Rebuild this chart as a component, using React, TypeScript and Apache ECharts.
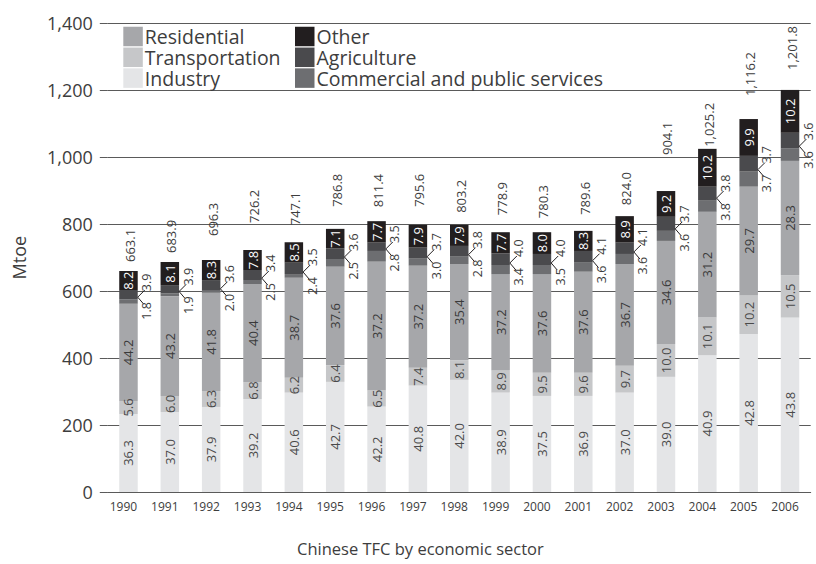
import React, { useEffect, useRef } from "react";
import * as echarts from "echarts";

// ---- data ----
const years = ["1990", "1991", "1992", "1993", "1994", "1995", "1996", "1997", "1998", "1999", "2000", "2001", "2002", "2003", "2004", "2005", "2006"];

// segment heights in Mtoe, as drawn
const industry = [233, 239, 254, 278, 297, 329, 255, 318, 335, 297, 287, 287, 297, 344, 409, 472, 521];
const transportation = [39, 48, 48, 50, 44, 50, 48, 53, 59, 67, 69, 69, 80, 98, 112, 116, 127];
const residential = [290, 298, 293, 293, 299, 294, 385, 305, 287, 287, 295, 302, 304, 308, 316, 324, 341];
const commercial = [14, 8, 6, 12, 11, 23, 32, 21, 22, 27, 27, 27, 30, 30, 35, 45, 38];
const agriculture = [27, 25, 32, 30, 34, 32, 25, 33, 32, 35, 33, 35, 34, 42, 40, 47, 46];
const other = [57, 69, 60, 60, 61, 58, 64, 68, 63, 63, 65, 60, 79, 77, 113, 110, 128];

// share labels (%)
const industryPct = [36.3, 37.0, 37.9, 39.2, 40.6, 42.7, 42.2, 40.8, 42.0, 38.9, 37.5, 36.9, 37.0, 39.0, 40.9, 42.8, 43.8];
const transportationPct = [5.6, 6.0, 6.3, 6.8, 6.2, 6.4, 6.5, 7.4, 8.1, 8.9, 9.5, 9.6, 9.7, 10.0, 10.1, 10.2, 10.5];
const residentialPct = [44.2, 43.2, 41.8, 40.4, 38.7, 37.6, 37.2, 37.2, 35.4, 37.2, 37.6, 37.6, 36.7, 34.6, 31.2, 29.7, 28.3];
const commercialPct = [1.8, 1.9, 2.0, 2.5, 2.4, 2.5, 2.8, 3.0, 2.8, 3.4, 3.5, 3.6, 3.6, 3.6, 3.8, 3.7, 3.6];
const agriculturePct = [3.9, 3.9, 3.6, 3.4, 3.5, 3.6, 3.5, 3.7, 3.8, 4.0, 4.0, 4.1, 4.1, 3.7, 3.8, 3.7, 3.6];
const otherPct = [8.2, 8.1, 8.3, 7.8, 8.5, 7.1, 7.7, 7.9, 7.9, 7.7, 8.0, 8.3, 8.9, 9.2, 10.2, 9.9, 10.2];

// totals (Mtoe)
const totals = [663.1, 683.9, 696.3, 726.2, 747.1, 786.8, 811.4, 795.6, 803.2, 778.9, 780.3, 789.6, 824.0, 904.1, 1025.2, 1116.2, 1201.8];

const yTicks = [0, 200, 400, 600, 800, 1000, 1200, 1400];

// ---- styling (not data) ----
const totalLabelGap = [9, 9, 24, 27, 17, 22, 14, 18, 12, 17, 14, 16, 11, 36, 2, 23, 20];
const FONT = "'Open Sans', 'Noto Sans', 'DejaVu Sans', sans-serif";
const TEXT = "#3d3d3d";
const GRID = "#5a5a5a";
const C_IND = "#e4e5e7";
const C_TRA = "#c6c7c9";
const C_RES = "#a6a7aa";
const C_COM = "#6d6e71";
const C_AGR = "#4a4a4d";
const C_OTH = "#221e1f";
const BAR_W = 18.5;

export default function App() {
  const ref = useRef<HTMLDivElement>(null);

  useEffect(() => {
    if (!ref.current) return;
    const chart = echarts.init(ref.current, null, { renderer: "svg" });

    const comTop = years.map((_, i) => industry[i] + transportation[i] + residential[i] + commercial[i]);
    const barTop = years.map((_, i) => comTop[i] + agriculture[i] + other[i]);

    const insideLabel = (pcts: number[], color: string) => ({
      show: true,
      position: "inside",
      rotate: 90,
      fontSize: 13,
      color,
      fontFamily: FONT,
      formatter: (p: any) => pcts[p.dataIndex].toFixed(1),
    });

    const bar = (name: string, data: number[], color: string, label: any) => ({
      name,
      type: "bar",
      stack: "tfc",
      data,
      barWidth: BAR_W,
      itemStyle: { color },
      label,
      emphasis: { disabled: true },
    });

    const fmtTotal = (v: number) =>
      v.toLocaleString("en-US", { minimumFractionDigits: 1, maximumFractionDigits: 1 });

    const legendBase = {
      orient: "vertical",
      top: 26.5,
      itemWidth: 19.5,
      itemHeight: 19.5,
      itemGap: 0.8,
      icon: "rect",
      selectedMode: false,
      padding: 0,
      textStyle: {
        fontSize: 19.5,
        color: TEXT,
        fontFamily: FONT,
        lineHeight: 19.5,
        padding: [0, 0, 0, -3],
      },
    };

    const option: any = {
      animation: false,
      grid: { left: 107.8, right: 5.3, top: 23.3, bottom: 72, containLabel: false },
      legend: [
        { ...legendBase, left: 123.3, data: ["Residential", "Transportation", "Industry"] },
        { ...legendBase, left: 295, data: ["Other", "Agriculture", "Commercial and public services"] },
      ],
      graphic: [
        {
          type: "text",
          left: 297,
          top: 540,
          style: { text: "Chinese TFC by economic sector", fontSize: 16.5, fill: TEXT, fontFamily: FONT },
        },
      ],
      xAxis: {
        type: "category",
        data: years,
        axisLine: { show: true, lineStyle: { color: GRID, width: 1 } },
        axisTick: { show: false },
        axisLabel: { fontSize: 12, color: TEXT, margin: 8, fontFamily: FONT, padding: [0, 10, 0, 0] },
      },
      yAxis: {
        type: "value",
        min: yTicks[0],
        max: yTicks[yTicks.length - 1],
        interval: yTicks[1] - yTicks[0],
        name: "Mtoe",
        nameLocation: "middle",
        nameGap: 80,
        nameRotate: 90,
        nameTextStyle: { fontSize: 18, color: TEXT, fontFamily: FONT },
        axisLine: { show: false },
        axisTick: { show: true, length: 8, lineStyle: { color: GRID, width: 1 } },
        axisLabel: {
          fontSize: 18,
          color: TEXT,
          margin: 15,
          fontFamily: FONT,
          formatter: (v: number) => v.toLocaleString("en-US"),
        },
        splitLine: { show: true, lineStyle: { color: GRID, width: 1 } },
      },
      series: [
        bar("Industry", industry, C_IND, insideLabel(industryPct, "#4a4a4a")),
        bar("Transportation", transportation, C_TRA, insideLabel(transportationPct, "#4a4a4a")),
        bar("Residential", residential, C_RES, insideLabel(residentialPct, "#3a3a3a")),
        bar("Commercial and public services", commercial, C_COM, { show: false }),
        bar("Agriculture", agriculture, C_AGR, { show: false }),
        bar("Other", other, C_OTH, insideLabel(otherPct, "#ffffff")),
        {
          type: "custom",
          name: "annotations",
          coordinateSystem: "cartesian2d",
          silent: true,
          z: 10,
          data: years.map((_, i) => [i, barTop[i]]),
          encode: { x: 0, y: 1 },
          renderItem: (params: any, api: any) => {
            const i = params.dataIndex;
            const top = api.coord([i, barTop[i]]);
            const bd = api.coord([i, comTop[i]]);
            const xr = bd[0] + BAR_W / 2;
            const y0 = bd[1];
            const txt = (text: string, x: number, y: number, align: string, size: number) => ({
              type: "text",
              x,
              y,
              rotation: Math.PI / 2,
              style: { text, align, verticalAlign: "middle", fontSize: size, fill: TEXT, fontFamily: FONT },
            });
            return {
              type: "group",
              children: [
                txt(fmtTotal(totals[i]), top[0] + 1.5, top[1] - totalLabelGap[i], "left", 13),
                {
                  type: "line",
                  shape: { x1: xr, y1: y0 - 2, x2: xr + 7, y2: y0 - 9 },
                  style: { stroke: "#231f20", lineWidth: 1 },
                },
                {
                  type: "line",
                  shape: { x1: xr, y1: y0 - 2, x2: xr + 6, y2: y0 + 5 },
                  style: { stroke: "#231f20", lineWidth: 1 },
                },
                txt(agriculturePct[i].toFixed(1), xr + 9, y0 - 8, "left", 12.5),
                txt(commercialPct[i].toFixed(1), xr + 9, y0 + 3, "right", 12.5),
              ],
            };
          },
        },
      ],
    };

    chart.setOption(option);
    return () => chart.dispose();
  }, []);

  return (
    <div
      ref={ref}
      style={{ position: "absolute", left: 0, top: 0, width: 816, height: 564, background: "#ffffff" }}
    />
  );
}
